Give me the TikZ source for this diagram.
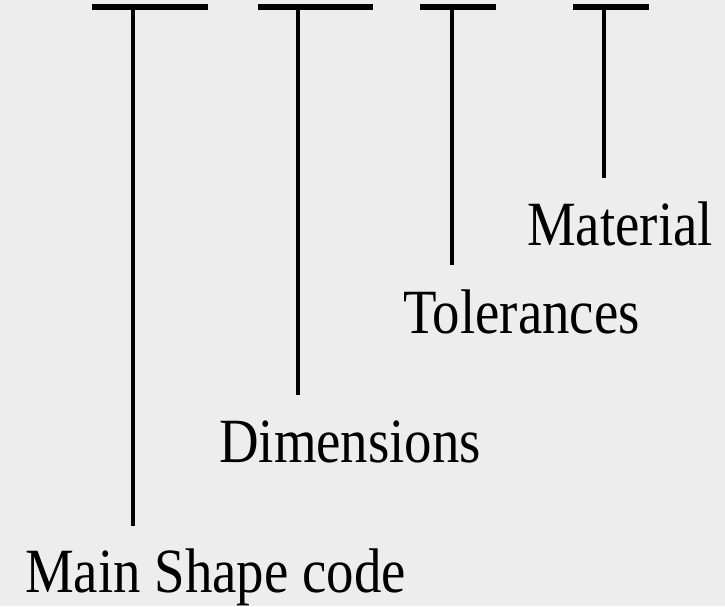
\documentclass[tikz,border=0pt]{standalone}
\usepackage{fontspec}
\setmainfont{Liberation Serif}
\newfontfamily\tagfont[FakeStretch=0.87]{Liberation Serif}
\usepackage{xcolor}
\usetikzlibrary{positioning}
\definecolor{paper}{RGB}{237,237,237}

\begin{document}
\begin{tikzpicture}[
  x=1pt, y=-1pt,
  bar/.style={line width=6pt},
  stem/.style={line width=4pt},
  tag/.style={
    anchor=base west,
    inner sep=0pt,
    font=\tagfont\fontsize{63}{63}\selectfont
  }
]

% Background
\fill[paper] (0,0) rectangle (725,606);
\useasboundingbox (0,0) rectangle (725,606);

% Field markers
\coordinate (shapeL) at (92,7);
\coordinate (shapeR) at (208,7);
\coordinate (shapeTop) at (133,7);
\coordinate (shapeEnd) at (133,526);

\coordinate (dimL) at (258,7);
\coordinate (dimR) at (373,7);
\coordinate (dimTop) at (298,7);
\coordinate (dimEnd) at (298,395);

\coordinate (tolL) at (420,7);
\coordinate (tolR) at (496,7);
\coordinate (tolTop) at (452,7);
\coordinate (tolEnd) at (452,265);

\coordinate (matL) at (573,7);
\coordinate (matR) at (649,7);
\coordinate (matTop) at (604,7);
\coordinate (matEnd) at (604,178);

% Labels
\node[tag] (shape) at (25,592) {Main Shape code};
\node[tag] (dim) at (219,462) {Dimensions};
\node[tag] (tol) at (403,333) {Tolerances};
\node[tag] (mat) at (527,245) {Material};

% Bars and stems
\draw[bar] (shapeL) -- (shapeR);
\draw[stem] (shapeTop) -- (shapeEnd);

\draw[bar] (dimL) -- (dimR);
\draw[stem] (dimTop) -- (dimEnd);

\draw[bar] (tolL) -- (tolR);
\draw[stem] (tolTop) -- (tolEnd);

\draw[bar] (matL) -- (matR);
\draw[stem] (matTop) -- (matEnd);

\end{tikzpicture}
\end{document}
